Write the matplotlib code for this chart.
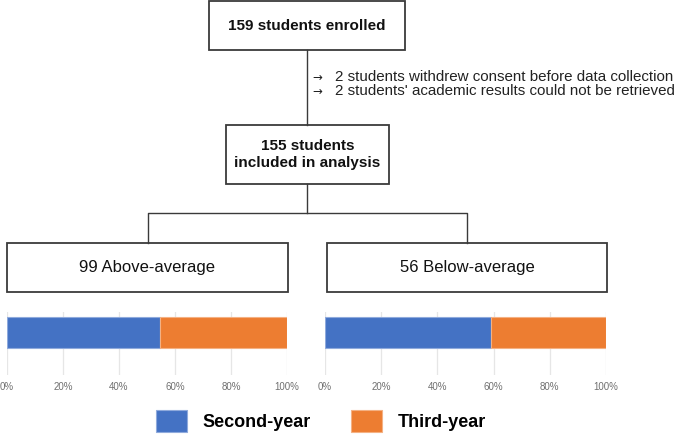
import matplotlib.pyplot as plt
from matplotlib.patches import Rectangle, Patch

plt.rcParams['font.family'] = ['Liberation Sans', 'DejaVu Sans']

# data
groups = ['99 Above-average', '56 Below-average']
second_year = [54, 33]
third_year = [45, 23]
series = ['Second-year', 'Third-year']
colors = ['#4472C4', '#ED7D31']
edges = ['#8FAADC', '#F4B183']
ticks = [0, 20, 40, 60, 80, 100]
tick_labels = ['0%', '20%', '40%', '60%', '80%', '100%']
enrolled = '159 students enrolled'
excluded = ['2 students withdrew consent before data collection',
            "2 students' academic results could not be retrieved"]
included = '155 students\nincluded in analysis'

W, H = 685, 436
fig = plt.figure(figsize=(W / 100, H / 100), dpi=100)

# flowchart layer in pixel coords
fx = fig.add_axes([0, 0, 1, 1])
fx.set_xlim(0, W); fx.set_ylim(H, 0); fx.axis('off')
lc = '#3a3a3a'

def box(x0, y0, x1, y1, txt, **kw):
    fx.add_patch(Rectangle((x0, y0), x1 - x0, y1 - y0, fill=False,
                           edgecolor=lc, linewidth=1.3))
    fx.text((x0 + x1) / 2, (y0 + y1) / 2, txt, ha='center', va='center',
            color='#111111', linespacing=1.3, **kw)

box(209, 1, 405, 50, enrolled, fontsize=11, fontweight='bold')
box(226, 125, 389, 184, included, fontsize=11, fontweight='bold')
box(7, 243, 288, 292, groups[0], fontsize=12)
box(327, 243, 607, 292, groups[1], fontsize=12)

fx.plot([307, 307], [50, 125], color=lc, lw=1)
fx.plot([307, 307], [184, 213], color=lc, lw=1)
fx.plot([148, 148, 467, 467], [243, 213, 213, 243], color=lc, lw=1)

for i, t in enumerate(excluded):
    y = 77 + i * 14
    fx.text(317, y, '→', ha='center', va='center', fontsize=8.5,
            family=['DejaVu Sans'], color='#222222')
    fx.text(335, y, t, ha='left', va='center', fontsize=10.9, color='#222222')

# stacked bars
for k, (x0, x1) in enumerate([(7, 287), (325, 606)]):
    ax = fig.add_axes([x0 / W, 1 - 375 / H, (x1 - x0) / W, 63 / H])
    ax.patch.set_alpha(0)
    tot = second_year[k] + third_year[k]
    s = second_year[k] / tot * 100
    t = third_year[k] / tot * 100
    ax.barh(0, s, height=0.8, color=colors[0], edgecolor=edges[0], lw=0.8)
    ax.barh(0, t, left=s, height=0.8, color=colors[1], edgecolor=edges[1], lw=0.8)
    ax.set_xlim(0, 100)
    ax.set_ylim(-1.097, 0.529)
    ax.set_xticks(ticks)
    ax.set_xticklabels(tick_labels, fontsize=7, color='#707070')
    ax.set_yticks([])
    ax.tick_params(axis='x', length=0, pad=5)
    ax.grid(axis='x', color='#e6e6e6', lw=0.9)
    ax.set_axisbelow(True)
    for sp in ax.spines.values():
        sp.set_visible(False)

handles = [Patch(facecolor=c, edgecolor=e, lw=0.8) for c, e in zip(colors, edges)]
fig.legend(handles, series, loc='center', bbox_to_anchor=(321 / W, 1 - 421 / H),
           ncol=2, frameon=False, prop={'size': 13, 'weight': 'bold'},
           handlelength=1.72, handleheight=1.55, handletextpad=0.9,
           columnspacing=2.2, borderpad=0)

fig.savefig('out.png', dpi=100)
